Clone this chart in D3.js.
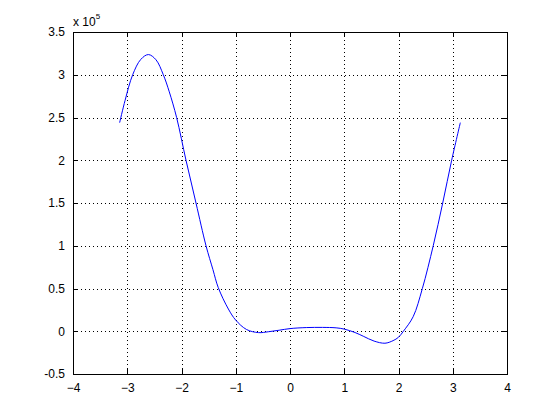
<!DOCTYPE html>
<html>
<head>
<meta charset="utf-8">
<script src="https://cdn.jsdelivr.net/npm/d3@7"></script>
<style>
  html, body { margin: 0; padding: 0; background: #fff; }
  svg { display: block; }
  text { font-family: "Liberation Sans", Arial, sans-serif; font-size: 12px; fill: #000; }
</style>
</head>
<body>
<svg id="chart" width="560" height="420"></svg>
<script>
// ---- data ----
const xValues = [-3.14, -3.04, -2.90, -2.75, -2.61, -2.47, -2.335, -2.225, -2.09, -1.917, -1.733, -1.548, -1.42, -1.322, -1.136, -1.0, -0.8, -0.58, -0.4, -0.2, 0, 0.3, 0.6, 0.85, 1.0, 1.2, 1.35, 1.55, 1.75, 1.9, 2.0, 2.09, 2.27, 2.44, 2.64, 2.815, 2.98, 3.14];
const yValues = [244000, 270000, 300000, 318000, 323600, 317500, 300000, 280000, 250000, 200000, 150000, 100000, 72000, 51000, 26000, 13000, 2000, -1600, -600, 1200, 3100, 4300, 4500, 4000, 2500, -1500, -5800, -11500, -14000, -11000, -7000, 0, 17000, 50000, 100000, 150000, 200000, 244000];
const xTicks = [-4, -3, -2, -1, 0, 1, 2, 3, 4];
const yTicks = [-50000, 0, 50000, 100000, 150000, 200000, 250000, 300000, 350000];
const yTickLabels = ["-0.5", "0", "0.5", "1", "1.5", "2", "2.5", "3", "3.5"];
const exponentLabel = "5";

// ---- layout ----
const mLeft = 73, mRight = 507, mTop = 32, mBottom = 374;
const svg = d3.select("#chart");
const x = d3.scaleLinear().domain([-4, 4]).range([mLeft, mRight]);
const y = d3.scaleLinear().domain([-50000, 350000]).range([mBottom, mTop]);

// grid
const grid = svg.append("g").attr("stroke", "#000").attr("stroke-width", 1)
  .attr("stroke-dasharray", "1,3").attr("shape-rendering", "crispEdges");
grid.selectAll("line.vx").data(xTicks.slice(1, -1)).enter().append("line")
  .attr("x1", d => Math.round(x(d)) + 0.5).attr("x2", d => Math.round(x(d)) + 0.5)
  .attr("y1", mTop).attr("y2", mBottom);
grid.selectAll("line.hy").data(yTicks.slice(1, -1)).enter().append("line")
  .attr("y1", d => Math.round(y(d)) + 0.5).attr("y2", d => Math.round(y(d)) + 0.5)
  .attr("x1", mLeft).attr("x2", mRight);

// axes (bottom / left with labels, top / right ticks only)
const tickLen = 5;
const xAxis = d3.axisBottom(x).tickValues(xTicks).tickSizeInner(-tickLen).tickSizeOuter(0).tickPadding(9).tickFormat(d3.format("d"));
const yAxis = d3.axisLeft(y).tickValues(yTicks).tickSizeInner(-tickLen).tickSizeOuter(0).tickPadding(8)
  .tickFormat((d, i) => yTickLabels[i]);
const xTop = d3.axisTop(x).tickValues(xTicks).tickSizeInner(-tickLen).tickSizeOuter(0).tickFormat("");
const yRight = d3.axisRight(y).tickValues(yTicks).tickSizeInner(-tickLen).tickSizeOuter(0).tickFormat("");

function style(g) {
  g.selectAll(".domain").remove();
  g.selectAll("line").attr("stroke", "#000").attr("shape-rendering", "crispEdges");
  g.selectAll("text").attr("font-family", "Liberation Sans, Arial, sans-serif").attr("font-size", 12).attr("fill", "#000");
}
svg.append("g").attr("transform", `translate(0,${mBottom})`).call(xAxis).call(style);
svg.append("g").attr("transform", `translate(${mLeft},0)`).call(yAxis).call(style);
svg.append("g").attr("transform", `translate(0,${mTop})`).call(xTop).call(style);
svg.append("g").attr("transform", `translate(${mRight},0)`).call(yRight).call(style);

// box
svg.append("rect").attr("x", mLeft + 0.5).attr("y", mTop + 0.5)
  .attr("width", mRight - mLeft).attr("height", mBottom - mTop)
  .attr("fill", "none").attr("stroke", "#000").attr("stroke-width", 1).attr("shape-rendering", "crispEdges");

// curve
const pts = xValues.map((v, i) => [v, yValues[i]]);
const line = d3.line().x(d => x(d[0])).y(d => y(d[1])).curve(d3.curveCatmullRom.alpha(0.5));
svg.append("path").datum(pts).attr("d", line)
  .attr("fill", "none").attr("stroke", "#0000ff").attr("stroke-width", 1);

// exponent label
const ex = svg.append("text").attr("x", mLeft).attr("y", 26);
ex.append("tspan").text("x 10");
ex.append("tspan").attr("dy", -7).attr("font-size", 8).text(exponentLabel);
</script>
</body>
</html>
